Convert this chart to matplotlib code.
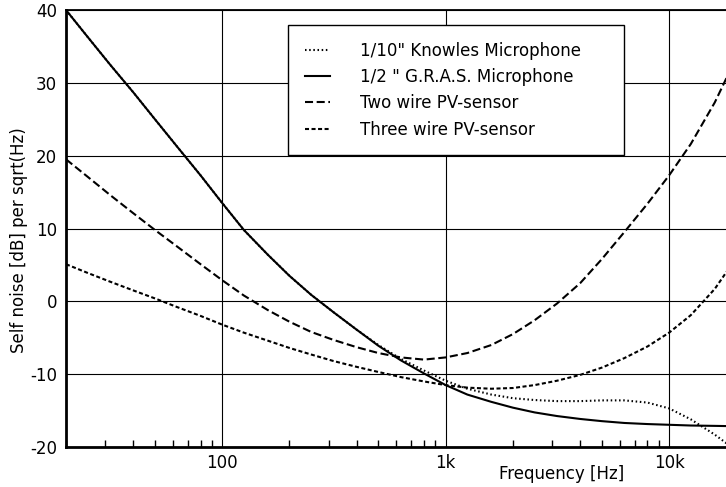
import numpy as np
import matplotlib
matplotlib.use("Agg")
import matplotlib.pyplot as plt
from matplotlib.ticker import FixedLocator, FixedFormatter, LogLocator, NullFormatter

plt.rcParams['font.family'] = ['DejaVu Sans']
plt.rcParams['axes.unicode_minus'] = False
plt.rcParams['lines.scale_dashes'] = False

# third-octave frequencies [Hz]
freq = [20, 25, 31.5, 40, 50, 63, 80, 100, 125, 160, 200, 250, 315, 400, 500, 630,
        800, 1000, 1250, 1600, 2000, 2500, 3150, 4000, 5000, 6300, 8000, 10000,
        12500, 16000, 20000]

# self noise [dB per sqrt(Hz)]
knowles = [40.0, 36.3, 32.5, 28.7, 25.0, 21.2, 17.3, 13.5, 9.8, 6.4, 3.5, 0.9, -1.5,
           -3.9, -6.0, -7.9, -9.5, -10.9, -12.0, -12.8, -13.3, -13.55, -13.7, -13.7,
           -13.6, -13.6, -13.9, -14.7, -16.2, -18.3, -20.5]
gras = [40.0, 36.3, 32.5, 28.7, 25.0, 21.2, 17.3, 13.5, 9.8, 6.4, 3.5, 0.9, -1.5,
        -3.9, -6.1, -8.1, -9.9, -11.5, -12.8, -13.8, -14.6, -15.25, -15.75, -16.15,
        -16.45, -16.7, -16.85, -16.95, -17.05, -17.1, -17.15]
two_wire = [19.5, 17.1, 14.6, 12.1, 9.8, 7.5, 5.1, 2.9, 0.8, -1.2, -2.8, -4.2, -5.3,
            -6.3, -7.1, -7.7, -8.0, -7.7, -7.1, -6.0, -4.5, -2.6, -0.3, 2.5, 5.8,
            9.5, 13.4, 17.3, 21.6, 27.3, 33.5]
three_wire = [5.1, 3.9, 2.7, 1.5, 0.4, -0.8, -2.0, -3.2, -4.3, -5.4, -6.4, -7.3, -8.2,
              -9.0, -9.7, -10.4, -11.0, -11.5, -11.85, -12.0, -11.9, -11.5, -10.9,
              -10.1, -9.1, -7.8, -6.2, -4.3, -1.9, 1.7, 6.0]

labels = ['1/10" Knowles Microphone', '1/2 " G.R.A.S. Microphone',
          'Two wire PV-sensor', 'Three wire PV-sensor']

fig = plt.figure(figsize=(7.26, 4.87), dpi=100)
ax = fig.add_axes([66/726., 40/487., 670.4/726., 437/487.])

lw = 1.5
ax.plot(freq, knowles, color='k', lw=lw, dashes=(1.1, 1.9), label=labels[0])
ax.plot(freq, gras, color='k', lw=lw, label=labels[1])
ax.plot(freq, two_wire, color='k', lw=lw, dashes=(5.8, 2.6), label=labels[2])
ax.plot(freq, three_wire, color='k', lw=lw, dashes=(2.9, 1.8), label=labels[3])

ax.set_xscale('log')
ax.set_xlim(20, 20000)
ax.set_ylim(-20, 40)

ax.xaxis.set_major_locator(FixedLocator([100, 1000, 10000]))
ax.xaxis.set_major_formatter(FixedFormatter(['100', '1k', '10k']))
ax.xaxis.set_minor_locator(LogLocator(base=10, subs=np.arange(2, 10)))
ax.xaxis.set_minor_formatter(NullFormatter())
ax.set_yticks(np.arange(-20, 41, 10))

ax.grid(True, which='major', color='k', lw=0.8)
ax.set_axisbelow(True)
ax.tick_params(axis='x', which='major', length=0, pad=5, labelsize=12)
ax.tick_params(axis='x', which='minor', direction='in', length=5, width=1, top=False)
ax.tick_params(axis='y', length=0, pad=6.5, labelsize=12)

for side in ['left', 'bottom']:
    ax.spines[side].set_linewidth(2)
ax.spines['top'].set_linewidth(1.3)
ax.spines['right'].set_visible(False)

ax.set_ylabel('Self noise [dB] per sqrt(Hz)', fontsize=12)
ax.yaxis.set_label_coords(-0.057, 0.474)
ax.set_xlabel('Frequency [Hz]', fontsize=12)
ax.xaxis.set_label_coords(0.740, -0.041)

leg = ax.legend(loc='upper left', bbox_to_anchor=(0.331, 0.5, 0.501, 0.4657),
                mode='expand', borderaxespad=0, fancybox=False, framealpha=1,
                edgecolor='k', fontsize=12, handlelength=1.5, handletextpad=1.8,
                labelspacing=0.5, borderpad=1.0)
leg.get_frame().set_linewidth(1)

plt.savefig('out.png', dpi=100)
